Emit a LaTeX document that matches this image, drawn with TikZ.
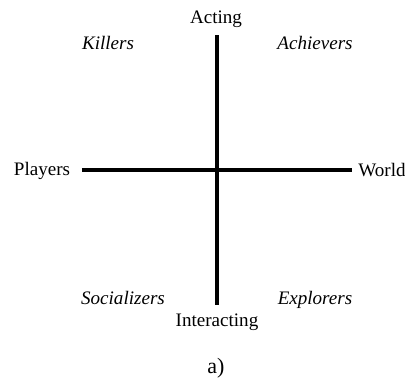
\documentclass[tikz,border=0pt]{standalone}
\usepackage{fontspec}
\setmainfont{Liberation Serif}
\newfontfamily\capfont{Liberation Serif}
\begin{document}
\begin{tikzpicture}[x=0.75pt,y=-0.75pt,
  lbl/.style={font=\fontsize{14.3}{16}\selectfont, inner sep=0pt},
  typ/.style={lbl, font=\fontsize{14.3}{16}\selectfont\itshape, anchor=base},
  axis/.style={line width=2.5pt}]
\useasboundingbox (0,0) rectangle (405,379);
\node[lbl] (acting) at (216,19) {Acting};
\node[lbl] (interacting) at (217,322) {Interacting};
\node[lbl] (players) at (42,171) {Players};
\node[lbl] (world) at (382,170) {World};
\node[typ] (killers) at (108,49) {Killers};
\node[typ] (achievers) at (315,49) {Achievers};
\node[typ] (socializers) at (123,304) {Socializers};
\node[typ] (explorers) at (315,304) {Explorers};
\node[lbl, font=\capfont\fontsize{16.5}{18}\selectfont] (cap) at (216,368) {a)};
\coordinate (top) at (217,35);
\coordinate (bot) at (217,305);
\coordinate (left) at (82,170);
\coordinate (right) at (352,170);
\draw[axis] (top) -- (bot);
\draw[axis] (left) -- (right);
\end{tikzpicture}
\end{document}
